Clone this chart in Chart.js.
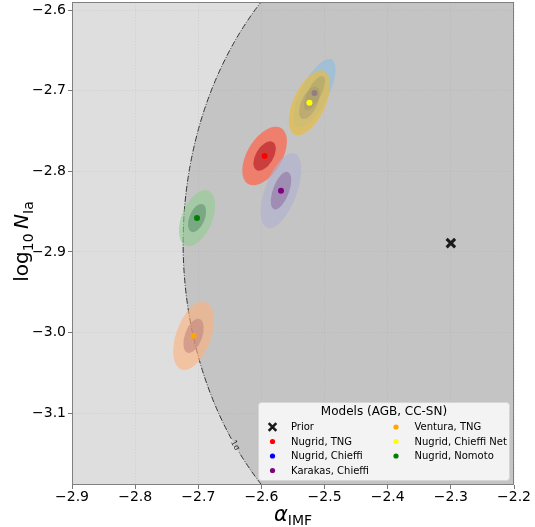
<!DOCTYPE html>
<html>
<head>
<meta charset="utf-8">
<script src="https://cdn.jsdelivr.net/npm/chart.js@4.4.0/dist/chart.umd.min.js"></script>
<style>
  html, body { margin: 0; padding: 0; background: #fff; }
  #wrap { width: 535px; height: 527px; position: relative; }
</style>
</head>
<body>
<div id="wrap"><canvas id="chart"></canvas></div>
<script>
// models (AGB, CC-SN) and their best-fit values
const models = ["Nugrid, TNG", "Nugrid, Chieffi", "Karakas, Chieffi", "Ventura, TNG", "Nugrid, Chieffi Net", "Nugrid, Nomoto"];
const alphaIMF = [-2.595, -2.516, -2.569, -2.7075, -2.524, -2.702];
const log10NIa = [-2.781, -2.703, -2.824, -3.004, -2.715, -2.858];
// 1 sigma widths and correlation of each posterior
const sigmaAlpha = [0.0177, 0.0167, 0.0161, 0.0161, 0.0164, 0.0143];
const sigmaNIa = [0.0182, 0.0212, 0.0233, 0.0212, 0.0201, 0.0174];
const corr = [0.5, 0.7, 0.56, 0.45, 0.55, 0.45];
// prior
const priorAlpha = -2.3;
const priorNIa = -2.889;
const priorRadius = 0.424;
// ticks
const xTicks = [-2.9, -2.8, -2.7, -2.6, -2.5, -2.4, -2.3, -2.2];
const yTicks = [-3.1, -3.0, -2.9, -2.8, -2.7, -2.6];

const markerColors = ["#ff0000", "#0000ff", "#800080", "#ffa500", "#ffff00", "#008000"];
const outerColors = ["rgba(255,99,71,0.7)", "rgba(140,190,225,0.6)", "rgba(176,176,212,0.6)",
  "rgba(255,176,123,0.6)", "rgba(239,186,43,0.6)", "rgba(145,205,145,0.6)"];
const innerColors = ["rgba(175,10,25,0.55)", "rgba(60,120,190,0.5)", "rgba(141,111,164,0.6)",
  "rgba(192,131,125,0.6)", "rgba(160,145,120,0.4)", "rgba(95,147,110,0.6)"];

const FONT = "'DejaVu Sans', sans-serif";

function fmt(v) {
  return v.toFixed(1).replace("-", "\u2212");
}

// covariance ellipse in pixel space
function ellipsePx(chart, cx, cy, sx, sy, rho, n) {
  const xs = chart.scales.x, ys = chart.scales.y;
  const px = xs.getPixelForValue(cx), py = ys.getPixelForValue(cy);
  const a = Math.abs(xs.getPixelForValue(cx + sx) - px);
  const b = Math.abs(ys.getPixelForValue(cy + sy) - py);
  const c = -rho * a * b; // y axis is flipped
  const m = (a * a + b * b) / 2;
  const d = Math.sqrt(((a * a - b * b) / 2) ** 2 + c * c);
  const theta = 0.5 * Math.atan2(2 * c, a * a - b * b);
  return { px, py, r1: n * Math.sqrt(m + d), r2: n * Math.sqrt(Math.max(m - d, 0)), theta };
}

const backgroundPlugin = {
  id: "background",
  beforeDraw(chart) {
    const { ctx, chartArea } = chart;
    const { left, right, top, bottom } = chartArea;
    const xs = chart.scales.x, ys = chart.scales.y;
    ctx.save();
    ctx.fillStyle = "#dedede";
    ctx.fillRect(left, top, right - left, bottom - top);
    ctx.beginPath();
    ctx.rect(left, top, right - left, bottom - top);
    ctx.clip();
    const px = xs.getPixelForValue(priorAlpha), py = ys.getPixelForValue(priorNIa);
    const rx = Math.abs(xs.getPixelForValue(priorAlpha + priorRadius) - px);
    const ry = Math.abs(ys.getPixelForValue(priorNIa + priorRadius) - py);
    ctx.beginPath();
    ctx.ellipse(px, py, rx, ry, 0, 0, 2 * Math.PI);
    ctx.fillStyle = "#c4c4c4";
    ctx.fill();

    // 1 sigma contour, broken where the label sits
    const labelY = -3.14;
    const s = (priorNIa - labelY) / priorRadius;
    const t0 = Math.PI - Math.asin(s);
    const gap = 0.024;
    ctx.beginPath();
    ctx.ellipse(px, py, rx, ry, 0, t0 + gap, t0 - gap + 2 * Math.PI);
    ctx.setLineDash([6, 1.6, 1, 1.6]);
    ctx.lineWidth = 0.9;
    ctx.strokeStyle = "#222";
    ctx.stroke();
    ctx.setLineDash([]);
    const lx = px + rx * Math.cos(t0), ly = py + ry * Math.sin(t0);
    const ang = Math.atan2(ry * Math.cos(t0), -rx * Math.sin(t0));
    ctx.translate(lx, ly);
    ctx.rotate(ang + Math.PI);
    ctx.fillStyle = "#222";
    ctx.font = "8px " + FONT;
    ctx.textAlign = "center";
    ctx.textBaseline = "middle";
    ctx.fillText("1\u03c3", 0, 0);
    ctx.restore();
  }
};

const ellipsePlugin = {
  id: "ellipses",
  beforeDatasetDraw(chart, args) {
    const i = args.index;
    if (i >= models.length) return;
    const { ctx, chartArea } = chart;
    ctx.save();
    ctx.beginPath();
    ctx.rect(chartArea.left, chartArea.top, chartArea.right - chartArea.left, chartArea.bottom - chartArea.top);
    ctx.clip();
    [[2, outerColors[i]], [1, innerColors[i]]].forEach(([n, col]) => {
      const e = ellipsePx(chart, alphaIMF[i], log10NIa[i], sigmaAlpha[i], sigmaNIa[i], corr[i], n);
      ctx.beginPath();
      ctx.ellipse(e.px, e.py, e.r1, e.r2, e.theta, 0, 2 * Math.PI);
      ctx.fillStyle = col;
      ctx.fill();
    });
    ctx.restore();
  }
};

function drawX(ctx, x, y, r, w) {
  ctx.beginPath();
  ctx.moveTo(x - r, y - r); ctx.lineTo(x + r, y + r);
  ctx.moveTo(x - r, y + r); ctx.lineTo(x + r, y - r);
  ctx.lineWidth = w;
  ctx.strokeStyle = "#1a1a1a";
  ctx.stroke();
}

const overlayPlugin = {
  id: "overlay",
  afterDraw(chart) {
    const { ctx, chartArea } = chart;
    const { left, right, top, bottom } = chartArea;
    ctx.save();

    // legend
    const bx = 258.5, by = 402.5, bw = 251, bh = 78;
    ctx.beginPath();
    ctx.roundRect(bx, by, bw, bh, 3);
    ctx.fillStyle = "rgba(255,255,255,0.8)";
    ctx.fill();
    ctx.strokeStyle = "#d6d6d6";
    ctx.lineWidth = 1;
    ctx.stroke();
    ctx.fillStyle = "#000";
    ctx.font = "12px " + FONT;
    ctx.textAlign = "center";
    ctx.textBaseline = "middle";
    ctx.fillText("Models (AGB, CC-SN)", bx + bw / 2, 412);
    const entries = [{ label: "Prior", prior: true }].concat(models.map((m, i) => ({ label: m, color: markerColors[i] })));
    const rowY = [427, 441.5, 456, 470.5];
    const colMark = [272.5, 396], colText = [291, 414.5];
    ctx.font = "10px " + FONT;
    ctx.textAlign = "left";
    entries.forEach((e, k) => {
      const col = Math.floor(k / 4), row = k % 4;
      const y = rowY[row];
      if (e.prior) {
        drawX(ctx, colMark[col], y, 3.8, 2.6);
      } else {
        ctx.beginPath();
        ctx.arc(colMark[col], y, 2.6, 0, 2 * Math.PI);
        ctx.fillStyle = e.color;
        ctx.fill();
      }
      ctx.fillStyle = "#000";
      ctx.fillText(e.label, colText[col], y + 0.5);
    });

    // frame
    ctx.strokeStyle = "#808080";
    ctx.lineWidth = 1;
    ctx.strokeRect(Math.round(left) + 0.5, Math.round(top) + 0.5, Math.round(right - left) - 1, Math.round(bottom - top) - 1);

    // x title: alpha_IMF
    ctx.fillStyle = "#000";
    ctx.textAlign = "left";
    ctx.textBaseline = "alphabetic";
    ctx.font = "italic 21px " + FONT;
    const wA = ctx.measureText("\u03b1").width;
    ctx.font = "14px " + FONT;
    const wI = ctx.measureText("IMF").width;
    const cx = (left + right) / 2;
    const x0 = cx - (wA + wI) / 2;
    ctx.font = "italic 21px " + FONT;
    ctx.fillText("\u03b1", x0, 521);
    ctx.font = "14px " + FONT;
    ctx.fillText("IMF", x0 + wA, 525);

    // y title: log10 N_Ia
    ctx.translate(28, (top + bottom) / 2 - 2);
    ctx.rotate(-Math.PI / 2);
    const parts = [
      { t: "log", f: "20px " + FONT, dy: 0 },
      { t: "10", f: "14px " + FONT, dy: 4.5 },
      { t: " ", f: "14px " + FONT, dy: 0 },
      { t: "N", f: "italic 20px " + FONT, dy: 0 },
      { t: "Ia", f: "14px " + FONT, dy: 4.5 }
    ];
    let total = 0;
    parts.forEach(p => { ctx.font = p.f; p.w = ctx.measureText(p.t).width; total += p.w; });
    let x = -total / 2;
    parts.forEach(p => {
      ctx.font = p.f;
      ctx.fillText(p.t, x, p.dy);
      x += p.w;
    });
    ctx.restore();
  }
};

const datasets = models.map((m, i) => ({
  label: m,
  data: [{ x: alphaIMF[i], y: log10NIa[i] }],
  backgroundColor: markerColors[i],
  borderWidth: 0,
  pointRadius: 3,
  order: -i
}));
datasets.push({
  label: "Prior",
  data: [{ x: priorAlpha, y: priorNIa }],
  pointStyle: "crossRot",
  borderColor: "#1a1a1a",
  borderWidth: 3,
  pointRadius: 6,
  order: -10
});

const gridOpts = {
  color: "rgba(150,150,150,0.2)",
  lineWidth: 0.8,
  tickColor: "#555",
  tickLength: 4,
  tickWidth: 0.8
};

new Chart(document.getElementById("chart").getContext("2d"), {
  type: "scatter",
  data: { datasets },
  options: {
    responsive: true,
    maintainAspectRatio: false,
    animation: false,
    devicePixelRatio: 1,
    layout: { autoPadding: false, padding: { top: 2, right: 21, left: 0, bottom: 0 } },
    scales: {
      x: {
        type: "linear",
        min: -2.9,
        max: -2.2,
        afterBuildTicks(axis) { axis.ticks = xTicks.map(v => ({ value: v })); },
        afterFit(axis) { axis.height = 42; axis.paddingLeft = 0; axis.paddingRight = 0; },
        grid: gridOpts,
        border: { display: false, dash: [1.5, 1.5] },
        ticks: {
          padding: 0,
          color: "#000",
          font: { family: "DejaVu Sans", size: 14 },
          maxRotation: 0,
          callback: v => fmt(v)
        }
      },
      y: {
        type: "linear",
        min: -3.189,
        max: -2.59,
        afterBuildTicks(axis) { axis.ticks = yTicks.map(v => ({ value: v })); },
        afterFit(axis) { axis.width = 72; axis.paddingTop = 0; axis.paddingBottom = 0; },
        grid: gridOpts,
        border: { display: false, dash: [1.5, 1.5] },
        ticks: {
          padding: 2,
          color: "#000",
          font: { family: "DejaVu Sans", size: 14 },
          callback: v => fmt(v)
        }
      }
    },
    plugins: {
      legend: { display: false },
      tooltip: { enabled: false }
    }
  },
  plugins: [backgroundPlugin, ellipsePlugin, overlayPlugin]
});
</script>
</body>
</html>
